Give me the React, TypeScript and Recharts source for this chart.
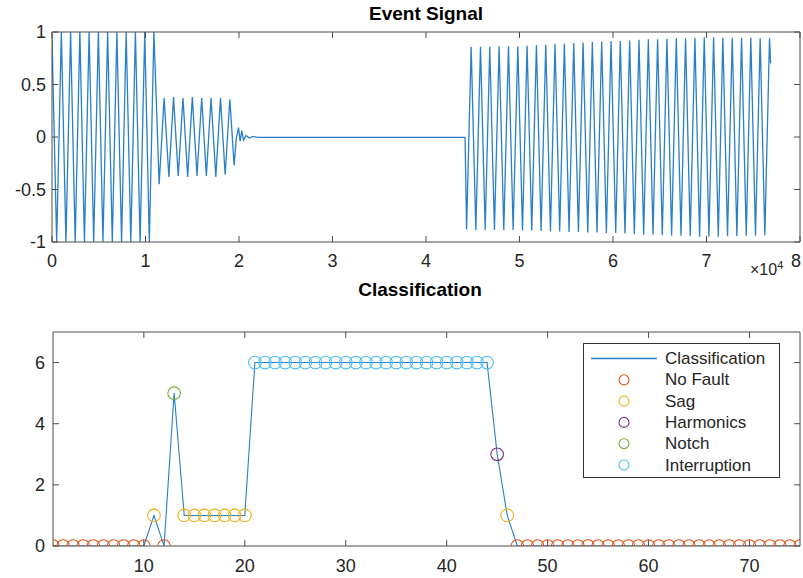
import React from 'react';
import { LineChart, ComposedChart, Line, Scatter, XAxis, YAxis, Legend } from 'recharts';

const FONT = '"Liberation Sans", Arial, Helvetica, sans-serif';
const AXIS = '#4d4d4d';
const TXT = '#262626';
const BLUE = '#2a7fc6';

// ---- Event signal: turning points (sample index, amplitude)
const normalT = [0, 500, 1000, 1490, 1990, 2480, 2980, 3470, 3970, 4460, 4960, 5450, 5950, 6450, 6940, 7440, 7930, 8430, 8920, 9420, 9920, 10410, 10900];
const normalV = [0.95, -1, 1, -1, 1, -1, 1, -1, 1, -1, 1, -1, 1, -1, 1, -1, 1, -1, 1, -1, 1, -1, 1];

const sagT = [11460, 11990, 12500, 13000, 13500, 14010, 14510, 15010, 15510, 16010, 16510, 17010, 17520, 18020, 18520, 19020];
const sagV = [-0.45, 0.37, -0.38, 0.38, -0.37, 0.37, -0.38, 0.38, -0.37, 0.37, -0.37, 0.37, -0.38, 0.37, -0.36, 0.36];

const settleT = [19480, 19700, 19950, 20120, 20300, 20480, 20750, 21100, 21500, 22000, 44180];
const settleV = [-0.27, -0.02, 0.09, -0.04, 0.06, -0.03, 0.015, -0.01, 0.005, -0.004, -0.004];

const restoreTroughT = [44340, 45330, 46330, 47320, 48320, 49320, 50320, 51310, 52310, 53310, 54300, 55300, 56300, 57300, 58290, 59290, 60290, 61280, 62280, 63280, 64280, 65270, 66270, 67270, 68260, 69260, 70260, 71260, 72250, 73250, 74250, 75240, 76240];
const restoreTroughV = [-0.88, -0.885, -0.885, -0.885, -0.885, -0.885, -0.89, -0.89, -0.895, -0.9, -0.9, -0.905, -0.905, -0.91, -0.91, -0.915, -0.915, -0.92, -0.925, -0.93, -0.93, -0.935, -0.94, -0.94, -0.945, -0.95, -0.95, -0.95, -0.945, -0.945, -0.94, -0.94, -0.935];
const restorePeakT = [44830, 45830, 46820, 47820, 48820, 49820, 50810, 51810, 52810, 53800, 54800, 55800, 56800, 57790, 58790, 59790, 60780, 61780, 62780, 63780, 64770, 65770, 66770, 67760, 68760, 69760, 70760, 71750, 72750, 73750, 74740, 75740, 76740];
const restorePeakV = [0.86, 0.86, 0.86, 0.865, 0.865, 0.865, 0.87, 0.875, 0.88, 0.885, 0.89, 0.895, 0.9, 0.905, 0.91, 0.915, 0.915, 0.92, 0.925, 0.93, 0.93, 0.935, 0.94, 0.94, 0.945, 0.95, 0.95, 0.945, 0.945, 0.945, 0.945, 0.94, 0.94];
const endT = 76860;
const endV = 0.7;

const signalXTicks = [0, 10000, 20000, 30000, 40000, 50000, 60000, 70000, 80000];
const signalYTicks = [-1, -0.5, 0, 0.5, 1];

// ---- Classification per window
const classValues = [
  0, 0, 0, 0, 0, 0, 0, 0, 0, 0,
  1, 0, 5, 1, 1, 1, 1, 1, 1, 1,
  6, 6, 6, 6, 6, 6, 6, 6, 6, 6, 6, 6, 6, 6, 6, 6, 6, 6, 6, 6, 6, 6, 6, 6,
  3, 1,
  0, 0, 0, 0, 0, 0, 0, 0, 0, 0, 0, 0, 0, 0, 0, 0, 0, 0, 0, 0, 0, 0, 0, 0, 0, 0, 0, 0, 0,
];
const classNames = ['No Fault', 'Sag', 'Harmonics', 'Notch', 'Interruption'];
const classCodes = [0, 1, 3, 5, 6];
const classColors = ['#D95319', '#EDB120', '#7E2F8E', '#77AC30', '#4DBEEE'];
const classXTicks = [10, 20, 30, 40, 50, 60, 70];
const classYTicks = [0, 2, 4, 6];

const zip = (t: number[], v: number[]) => t.map((x, i) => ({ t: x, v: v[i] }));

const restorePts: { t: number; v: number }[] = [];
restoreTroughT.forEach((t, i) => {
  restorePts.push({ t, v: restoreTroughV[i] });
  restorePts.push({ t: restorePeakT[i], v: restorePeakV[i] });
});

const signalData = [
  ...zip(normalT, normalV),
  ...zip(sagT, sagV),
  ...zip(settleT, settleV),
  ...restorePts,
  { t: endT, v: endV },
];

const classData = classValues.map((y, i) => ({ x: i + 1, y }));

const TICK_FS = 18;
const tickStyle = { fill: TXT, fontSize: TICK_FS, fontFamily: FONT };
const lineStyle = { stroke: AXIS };
const NoLabel = () => <g />;

// last label on the signal axis sits on the right edge; nudge it in a bit
const SignalXTick = (p: any) => {
  const last = p.payload.value === signalXTicks[signalXTicks.length - 1];
  return (
    <text x={p.x - (last ? 4 : 0)} y={p.y} dy="0.71em" textAnchor="middle" fill={TXT} fontSize={TICK_FS} fontFamily={FONT}>
      {String(p.payload.value / 10000)}
    </text>
  );
};

const titleStyle: React.CSSProperties = {
  position: 'absolute',
  fontFamily: FONT,
  fontWeight: 'bold',
  fontSize: 19,
  color: '#000',
  transform: 'translateX(-50%)',
  whiteSpace: 'nowrap',
};

const renderLegend = () => (
  <div style={{ width: 197, height: 135, border: '1px solid #333', background: '#fff', boxSizing: 'border-box' }}>
    <svg width={195} height={133} style={{ display: 'block' }}>
      <line x1={7} x2={73} y1={14.5} y2={14.5} stroke={BLUE} strokeWidth={1.3} />
      <text x={81} y={14.5} dominantBaseline="central" fontSize={17} fontFamily={FONT} fill={TXT}>Classification</text>
      {classNames.map((n, i) => {
        const y = 14.5 + (i + 1) * 21.3;
        return (
          <g key={n}>
            <circle cx={40} cy={y} r={5} fill="none" stroke={classColors[i]} strokeWidth={1.1} />
            <text x={81} y={y} dominantBaseline="central" fontSize={17} fontFamily={FONT} fill={TXT}>{n}</text>
          </g>
        );
      })}
    </svg>
  </div>
);

export default function App() {
  return (
    <div style={{ position: 'absolute', left: 0, top: 0, width: 803, height: 578, background: '#fff' }}>
      <div style={{ ...titleStyle, left: 426, top: 3 }}>Event Signal</div>
      <div style={{ position: 'absolute', left: 0, top: 0 }}>
        <LineChart width={803} height={280} data={signalData} margin={{ top: 31, right: 2, bottom: 8, left: 0 }}>
          <XAxis type="number" dataKey="t" domain={[0, 80000]} ticks={signalXTicks} interval={0} allowDataOverflow
            height={30} axisLine={lineStyle} tickLine={lineStyle}
            tickSize={-6} tickMargin={18} tick={<SignalXTick />} />
          <XAxis xAxisId="top" orientation="top" type="number" dataKey="t" domain={[0, 80000]} ticks={signalXTicks} interval={0}
            allowDataOverflow height={1} tick={<NoLabel />} tickSize={-6} axisLine={lineStyle} tickLine={lineStyle} />
          <YAxis type="number" domain={[-1, 1]} ticks={signalYTicks} interval={0} allowDataOverflow width={52}
            axisLine={lineStyle} tickLine={lineStyle} tickSize={-6} tickMargin={12} tick={tickStyle} />
          <YAxis yAxisId="right" orientation="right" type="number" domain={[-1, 1]} ticks={signalYTicks} interval={0}
            allowDataOverflow width={1} tick={<NoLabel />} tickSize={-6} axisLine={lineStyle} tickLine={lineStyle} />
          {/* invisible twin so the box axes (top / right) get a scale */}
          <Line xAxisId="top" yAxisId="right" type="linear" dataKey="v" stroke="none" dot={false} activeDot={false}
            legendType="none" isAnimationActive={false} />
          <Line type="linear" dataKey="v" stroke={BLUE} strokeWidth={1.3} dot={false} isAnimationActive={false} />
        </LineChart>
      </div>
      <div style={{ position: 'absolute', left: 750, top: 259, fontFamily: FONT, fontSize: 16, color: TXT }}>
        ×10<sup style={{ fontSize: 11 }}>4</sup>
      </div>

      <div style={{ ...titleStyle, left: 420, top: 279 }}>Classification</div>
      <div style={{ position: 'absolute', left: 0, top: 280 }}>
        <ComposedChart width={803} height={298} data={classData} margin={{ top: 51, right: 2, bottom: 2, left: 0 }}>
          <XAxis type="number" dataKey="x" domain={[1, 75]} ticks={classXTicks} interval={0} allowDataOverflow
            height={30} axisLine={lineStyle} tickLine={lineStyle} tickSize={-6} tickMargin={19} tick={tickStyle} />
          <XAxis xAxisId="top" orientation="top" type="number" dataKey="x" domain={[1, 75]} ticks={classXTicks} interval={0}
            allowDataOverflow height={1} tick={<NoLabel />} tickSize={-6} axisLine={lineStyle} tickLine={lineStyle} />
          <YAxis type="number" dataKey="y" domain={[0, 7]} ticks={classYTicks} interval={0} allowDataOverflow width={53}
            axisLine={lineStyle} tickLine={lineStyle} tickSize={-6} tickMargin={14} tick={tickStyle} />
          <YAxis yAxisId="right" orientation="right" type="number" dataKey="y" domain={[0, 7]} ticks={classYTicks} interval={0}
            allowDataOverflow width={1} tick={<NoLabel />} tickSize={-6} axisLine={lineStyle} tickLine={lineStyle} />
          <Line xAxisId="top" yAxisId="right" type="linear" dataKey="y" stroke="none" dot={false} activeDot={false}
            legendType="none" isAnimationActive={false} />
          <Line type="linear" dataKey="y" stroke={BLUE} strokeWidth={1.1} dot={false} isAnimationActive={false} />
          {classCodes.map((code, i) => (
            <Scatter
              key={classNames[i]}
              name={classNames[i]}
              data={classData.filter((d) => d.y === code)}
              isAnimationActive={false}
              shape={(p: any) => (
                <circle cx={p.cx} cy={p.cy} r={6.3} fill="none" stroke={classColors[i]} strokeWidth={1.1} />
              )}
            />
          ))}
          <Legend layout="vertical" align="center" verticalAlign="middle" content={renderLegend}
            wrapperStyle={{ left: 583, top: 63, width: 197, height: 135 }} />
        </ComposedChart>
      </div>
    </div>
  );
}
